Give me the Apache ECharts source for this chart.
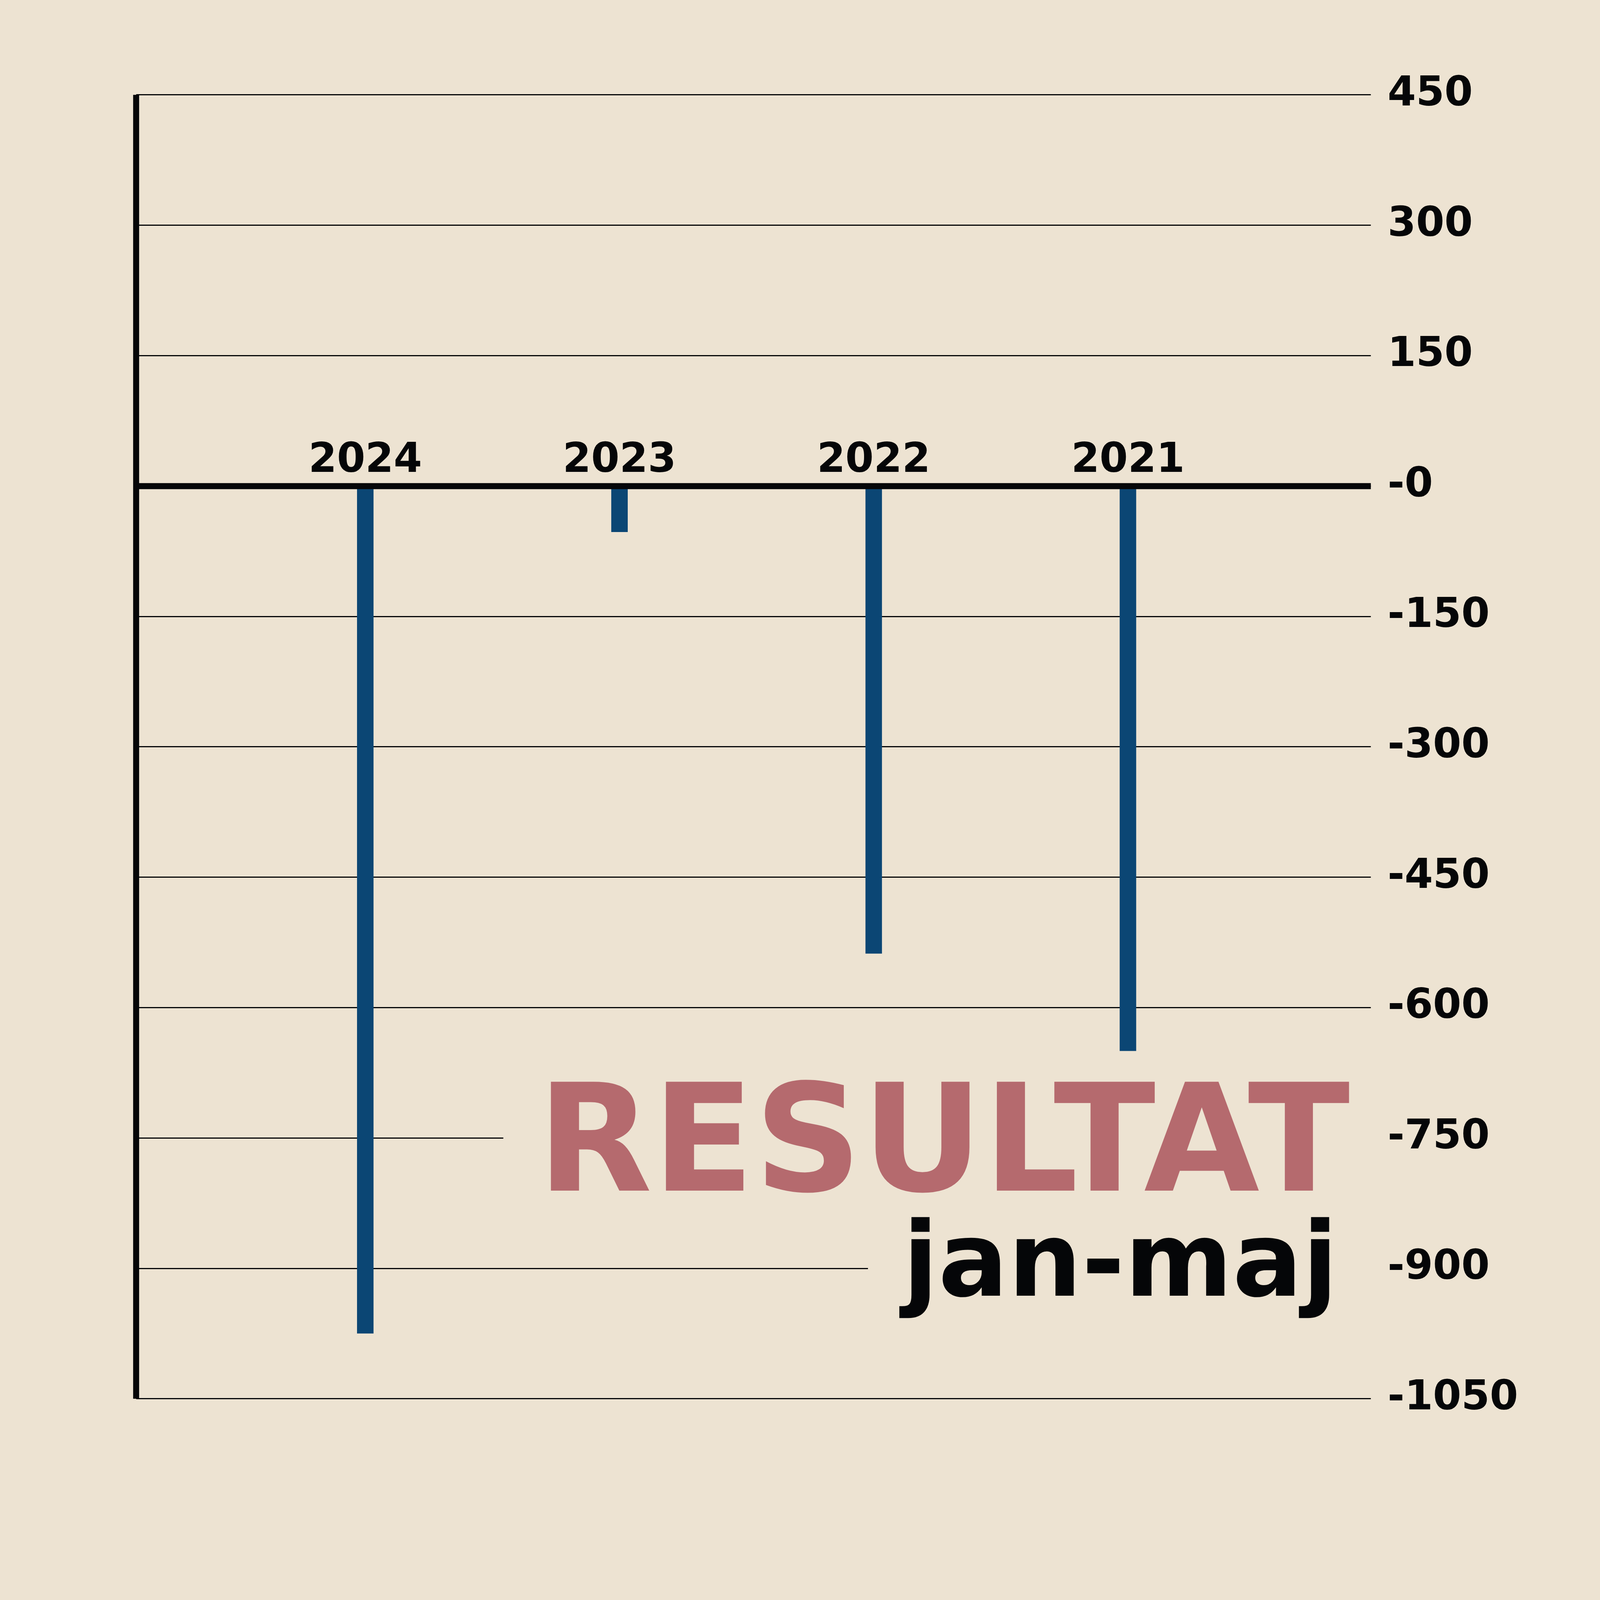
<!DOCTYPE html>
<html><head><meta charset="utf-8">
<script src="https://cdn.jsdelivr.net/npm/echarts@6/dist/echarts.min.js"></script>
<style>html,body{margin:0;padding:0;background:#ede3d2;overflow:hidden}#c{width:100vw;height:100vh}</style>
</head><body><div id="c"></div>
<script>
// ---- data ----
const categories = ['2024', '2023', '2022', '2021'];
const resultValues = [-975, -53, -538, -650];
const yTickLabels = ['450', '300', '150', '-0', '-150', '-300', '-450', '-600', '-750', '-900', '-1050'];
const yMin = -1050, yMax = 450, yStep = 150;
const titleText = 'RESULTAT';
const subtitleText = 'jan-maj';

// ---- styles ----
const BG = '#ede3d2';
const INK = '#050608';
const FONT = 'DejaVu Sans';

const el = document.getElementById('c');
const chart = echarts.init(el, null, {renderer: 'canvas'});
const S = el.clientWidth / 5334;   // design units -> css px
const p = v => v * S;
const gridTop = p(316), gridBottom = p(671);
const gridH = el.clientHeight - gridTop - gridBottom;
// distance from grid top down to the value 0, so the year labels sit on the zero line
const zeroOffset = gridH * (yMax - 0) / (yMax - yMin);

const option = {
  backgroundColor: BG,
  animation: false,
  grid: [
    {left: p(454), right: p(764), top: gridTop, bottom: gridBottom},
    {left: p(794), right: p(1150), top: gridTop, bottom: gridBottom}
  ],
  xAxis: [
    {
      type: 'category', gridIndex: 0, data: categories, z: 5,
      axisLine: {show: true, onZero: true, lineStyle: {color: INK, width: p(20), cap: 'butt'}},
      axisTick: {show: false}, axisLabel: {show: false}, splitLine: {show: false}
    },
    {
      type: 'category', gridIndex: 1, data: categories, z: 6,
      position: 'top', offset: -zeroOffset,
      axisLine: {show: false, onZero: false}, axisTick: {show: false},
      axisLabel: {show: true, margin: p(14), color: INK, fontFamily: FONT,
                  fontWeight: 'bold', fontSize: p(136)},
      splitLine: {show: false}
    }
  ],
  yAxis: [
    {
      type: 'value', gridIndex: 0, position: 'right', min: yMin, max: yMax, interval: yStep,
      axisLine: {show: false}, axisTick: {show: false},
      axisLabel: {show: true, margin: p(56), align: 'left', color: INK, fontFamily: FONT,
                  fontWeight: 'bold', fontSize: p(136),
                  formatter: v => yTickLabels[Math.round((yMax - v) / yStep)]},
      splitLine: {show: true, lineStyle: {color: INK, width: p(4)}}
    },
    {
      type: 'value', gridIndex: 0, position: 'left', min: yMin, max: yMax, interval: yStep,
      axisLine: {show: true, onZero: false, lineStyle: {color: INK, width: p(20), cap: 'butt'}},
      axisTick: {show: false}, axisLabel: {show: false}, splitLine: {show: false}
    },
    {
      type: 'value', gridIndex: 1, position: 'left', min: yMin, max: yMax, interval: yStep,
      axisLine: {show: false, onZero: false}, axisTick: {show: false},
      axisLabel: {show: false}, splitLine: {show: false}
    }
  ],
  series: [
    {
      type: 'bar', xAxisIndex: 1, yAxisIndex: 2, data: resultValues,
      barWidth: p(55), itemStyle: {color: '#0b4674'}
    }
  ],
  graphic: [
    {
      type: 'text', z: 10, x: p(4590), y: p(3840),
      style: {
        text: titleText, fill: '#b56a6e', font: 'bold ' + p(498) + 'px "DejaVu Sans"',
        align: 'right', verticalAlign: 'middle',
        backgroundColor: BG, padding: [0, p(90), 0, p(113)]
      }
    },
    {
      type: 'text', z: 11, x: p(4590), y: p(4230),
      style: {
        text: subtitleText, fill: INK, font: 'bold ' + p(345) + 'px "DejaVu Sans"',
        align: 'right', verticalAlign: 'middle',
        backgroundColor: BG, padding: [0, p(130), 0, p(116)]
      }
    }
  ]
};
chart.setOption(option);
</script>
</body></html>
